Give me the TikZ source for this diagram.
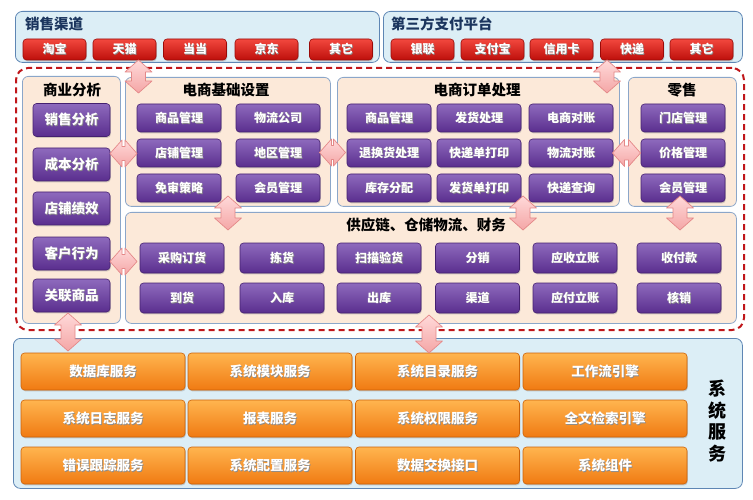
\documentclass[tikz,border=0pt]{standalone}
\usepackage{fontspec}
\setmainfont{Noto Sans CJK SC}
\usetikzlibrary{shadows}
\definecolor{redT}{HTML}{F2483E}
\definecolor{redB}{HTML}{BE0F0B}
\definecolor{redD}{HTML}{9A0A08}
\definecolor{purT}{HTML}{8E6ABD}
\definecolor{purB}{HTML}{5A2E8E}
\definecolor{purD}{HTML}{452070}
\definecolor{oraT}{HTML}{FFB54F}
\definecolor{oraB}{HTML}{F07A12}
\definecolor{oraD}{HTML}{CC6208}
\definecolor{blueF}{HTML}{DCEEF6}
\definecolor{blueD}{HTML}{5E86B4}
\definecolor{peachF}{HTML}{FCE9D9}
\definecolor{peachD}{HTML}{8BA6C9}
\definecolor{dashR}{HTML}{C0161A}
\definecolor{arrT}{HTML}{FFD9D9}
\definecolor{arrB}{HTML}{F4A6A6}
\definecolor{arrD}{HTML}{E48888}
\definecolor{navy}{HTML}{1B355E}
\newcommand\sh[1]{\makebox[0pt]{\hspace{1.6pt}\raisebox{-0.8pt}{\textcolor{black!45}{#1}}}\makebox[0pt]{#1}}
% block double arrow: cx, cy, length, angle
\newcommand\barr[4]{%
\begin{scope}[shift={(#1,#2)}, rotate=#4]
\pgfmathsetmacro\hh{#3/2}
\pgfmathsetmacro\hk{#3/2-12}
\draw[arrsty] (-\hh,0) -- (-\hk,-13.5) -- (-\hk,-7) -- (\hk,-7) -- (\hk,-13.5) -- (\hh,0)
  -- (\hk,13.5) -- (\hk,7) -- (-\hk,7) -- (-\hk,13.5) -- cycle;
\end{scope}}
\begin{document}
\begin{tikzpicture}[x=1pt,y=-1pt,
 btn/.style={rounded corners=3.5pt, line width=0.6pt, text=white, inner sep=0pt,
   drop shadow={shadow xshift=0.8pt,shadow yshift=-1.3pt,opacity=0.35}},
 redbtn/.style={btn, draw=redD, top color=redT, bottom color=redB, minimum width=63pt, minimum height=21pt, font=\bfseries\fontsize{12}{12}\selectfont},
 purbtn/.style={btn, draw=purD, top color=purT, bottom color=purB, minimum width=84pt, minimum height=28pt, font=\bfseries\fontsize{12}{12}\selectfont},
 bigpur/.style={purbtn, minimum width=77pt, minimum height=33pt, font=\bfseries\fontsize{13.5}{13.5}\selectfont},
 supbtn/.style={purbtn, minimum height=30pt},
 orabtn/.style={btn, draw=oraD, top color=oraT, bottom color=oraB, minimum width=164pt, minimum height=37pt, font=\bfseries\fontsize{13.5}{13.5}\selectfont},
 bluepanel/.style={draw=blueD, fill=blueF, rounded corners=7pt, line width=0.8pt, anchor=north west, inner sep=0pt},
 peachpanel/.style={draw=peachD, fill=peachF, rounded corners=6pt, line width=0.8pt, anchor=north west, inner sep=0pt},
 ptitle/.style={font=\bfseries\fontsize{14.5}{14.5}\selectfont, inner sep=0pt},
 arrsty/.style={draw=arrD, line width=0.7pt, line join=round, top color=arrT, bottom color=arrB},
]
\useasboundingbox (0,0) rectangle (753,500);
% panels
\node[bluepanel, minimum width=364pt, minimum height=51pt] (sales) at (15,11) {};
\node[bluepanel, minimum width=359pt, minimum height=51pt] (pay) at (383,11) {};
\node[anchor=north west, draw=dashR, dash pattern=on 6pt off 4pt, line width=2pt, rounded corners=12pt, minimum width=728pt, minimum height=262pt, inner sep=0pt] (core) at (15,67) {};
\node[peachpanel, minimum width=98pt, minimum height=247pt] (ana) at (22,76) {};
\node[peachpanel, minimum width=205pt, minimum height=129pt] (base) at (125,77) {};
\node[peachpanel, minimum width=282pt, minimum height=129pt] (order) at (337,77) {};
\node[peachpanel, minimum width=108pt, minimum height=129pt] (retail) at (628,77) {};
\node[peachpanel, minimum width=611pt, minimum height=111pt] (supply) at (125,212) {};
\node[bluepanel, minimum width=729pt, minimum height=150pt] (sys) at (13,338) {};
% titles
\node[ptitle, text=navy, anchor=west] (tsales) at (25,24) {销售渠道};
\node[ptitle, text=navy, anchor=west] (tpay) at (391,24) {第三方支付平台};
\node[ptitle] (tana) at (72,90) {商业分析};
\node[ptitle] (tbase) at (226,90) {电商基础设置};
\node[ptitle] (torder) at (477,90) {电商订单处理};
\node[ptitle] (tretail) at (682,90) {零售};
\node[ptitle] (tsupply) at (426,225) {供应链、仓储物流、财务};
\node[font=\bfseries\fontsize{18}{21.5}\selectfont, align=center, inner sep=0pt] (tsys) at (717,421) {系\\统\\服\\务};
% red buttons
\node[redbtn] (s1) at (54.5,49.5) {\sh{淘宝}};
\node[redbtn] (s2) at (124.5,49.5) {\sh{天猫}};
\node[redbtn] (s3) at (195,49.5) {\sh{当当}};
\node[redbtn] (s4) at (266.5,49.5) {\sh{京东}};
\node[redbtn] (s5) at (341,49.5) {\sh{其它}};
\node[redbtn] (p1) at (422.5,49.5) {\sh{银联}};
\node[redbtn] (p2) at (492.5,49.5) {\sh{支付宝}};
\node[redbtn] (p3) at (561.5,49.5) {\sh{信用卡}};
\node[redbtn] (p4) at (632,49.5) {\sh{快递}};
\node[redbtn] (p5) at (701.5,49.5) {\sh{其它}};
% analysis
\node[bigpur] (a1) at (71.5,120) {\sh{销售分析}};
\node[bigpur] (a2) at (71.5,164.5) {\sh{成本分析}};
\node[bigpur] (a3) at (71.5,208.5) {\sh{店铺绩效}};
\node[bigpur] (a4) at (71.5,253.5) {\sh{客户行为}};
\node[bigpur] (a5) at (71.5,295.5) {\sh{关联商品}};
% base
\node[purbtn] (b1) at (179,118) {\sh{商品管理}};
\node[purbtn] (b2) at (278,118) {\sh{物流公司}};
\node[purbtn] (b3) at (179,153) {\sh{店铺管理}};
\node[purbtn] (b4) at (278,153) {\sh{地区管理}};
\node[purbtn] (b5) at (179,188) {\sh{免审策略}};
\node[purbtn] (b6) at (278,188) {\sh{会员管理}};
% order
\node[purbtn] (o1) at (389,118) {\sh{商品管理}};
\node[purbtn] (o2) at (479,118) {\sh{发货处理}};
\node[purbtn] (o3) at (571,118) {\sh{电商对账}};
\node[purbtn] (o4) at (389,153) {\sh{退换货处理}};
\node[purbtn] (o5) at (479,153) {\sh{快递单打印}};
\node[purbtn] (o6) at (571,153) {\sh{物流对账}};
\node[purbtn] (o7) at (389,188) {\sh{库存分配}};
\node[purbtn] (o8) at (479,188) {\sh{发货单打印}};
\node[purbtn] (o9) at (571,188) {\sh{快递查询}};
% retail
\node[purbtn] (r1) at (683,118) {\sh{门店管理}};
\node[purbtn] (r2) at (683,153) {\sh{价格管理}};
\node[purbtn] (r3) at (683,188) {\sh{会员管理}};
% supply
\node[supbtn] (u1) at (182,258) {\sh{采购订货}};
\node[supbtn] (u2) at (282,258) {\sh{拣货}};
\node[supbtn] (u3) at (379,258) {\sh{扫描验货}};
\node[supbtn] (u4) at (477.5,258) {\sh{分销}};
\node[supbtn] (u5) at (575,258) {\sh{应收立账}};
\node[supbtn] (u6) at (679,258) {\sh{收付款}};
\node[supbtn] (u7) at (182,298) {\sh{到货}};
\node[supbtn] (u8) at (282,298) {\sh{入库}};
\node[supbtn] (u9) at (379,298) {\sh{出库}};
\node[supbtn] (u10) at (477.5,298) {\sh{渠道}};
\node[supbtn] (u11) at (575,298) {\sh{应付立账}};
\node[supbtn] (u12) at (679,298) {\sh{核销}};
% system services
\node[orabtn] (v1) at (103,371.5) {\sh{数据库服务}};
\node[orabtn] (v2) at (270,371.5) {\sh{系统模块服务}};
\node[orabtn] (v3) at (437.5,371.5) {\sh{系统目录服务}};
\node[orabtn] (v4) at (605,371.5) {\sh{工作流引擎}};
\node[orabtn] (v5) at (103,418.5) {\sh{系统日志服务}};
\node[orabtn] (v6) at (270,418.5) {\sh{报表服务}};
\node[orabtn] (v7) at (437.5,418.5) {\sh{系统权限服务}};
\node[orabtn] (v8) at (605,418.5) {\sh{全文检索引擎}};
\node[orabtn] (v9) at (103,465.5) {\sh{错误跟踪服务}};
\node[orabtn] (v10) at (270,465.5) {\sh{系统配置服务}};
\node[orabtn] (v11) at (437.5,465.5) {\sh{数据交换接口}};
\node[orabtn] (v12) at (605,465.5) {\sh{系统组件}};
% block arrows
\barr{138.5}{76.5}{33}{90}
\barr{607}{76.5}{33}{90}
\barr{123.5}{153.5}{27}{0}
\barr{332.5}{152.5}{26}{0}
\barr{626.5}{153}{28}{0}
\barr{228}{213}{34}{90}
\barr{523}{213}{34}{90}
\barr{680}{213}{34}{90}
\barr{123.5}{261.5}{27}{0}
\barr{68}{332}{38}{90}
\barr{429}{334}{38}{90}
\end{tikzpicture}
\end{document}
